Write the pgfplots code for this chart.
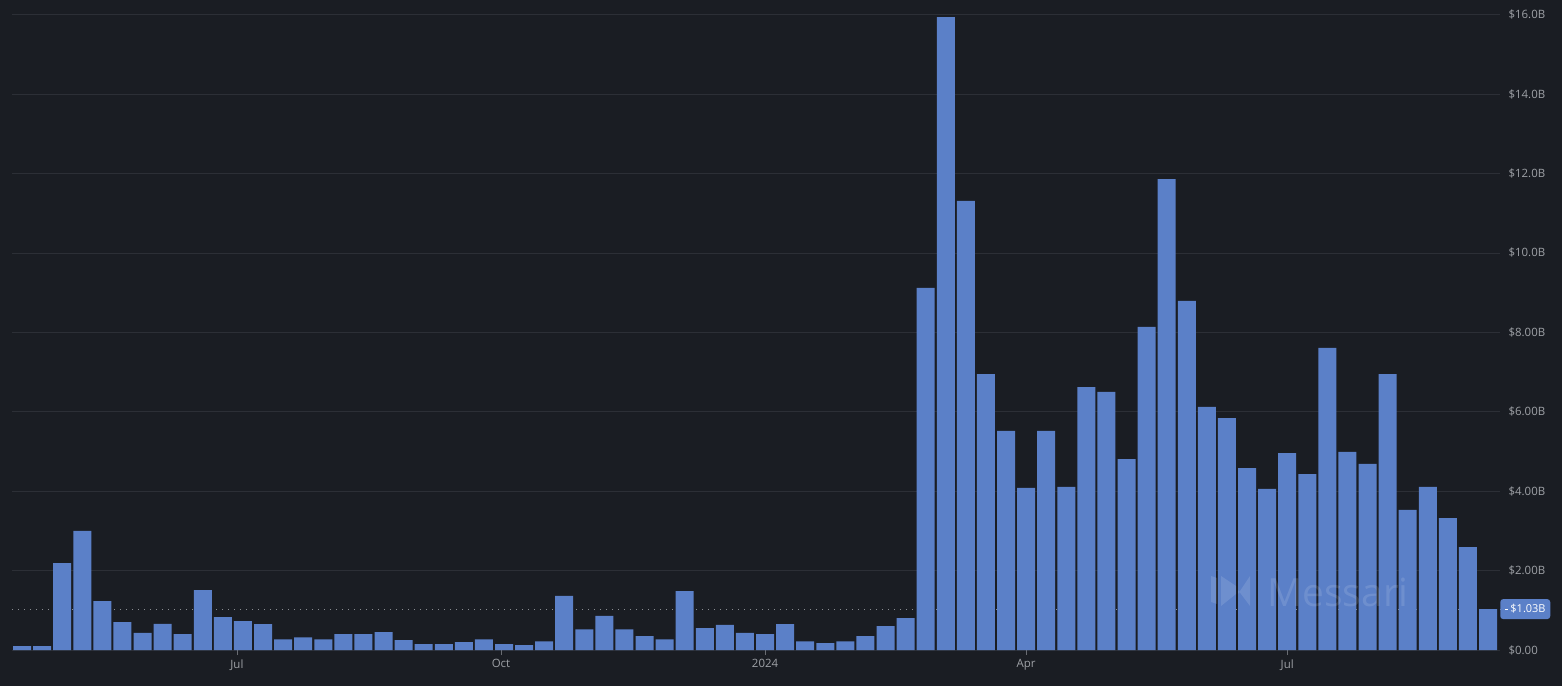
\documentclass[border=0pt]{standalone}
\usepackage{pgfplots}
\pgfplotsset{compat=1.18}
\usepackage{fontspec}
\setmainfont{Open Sans}
\definecolor{bg}{RGB}{26,29,35}
\definecolor{barc}{RGB}{91,128,200}
\definecolor{gridc}{RGB}{44,47,54}
\definecolor{txt}{RGB}{158,161,166}
\begin{document}
\begin{tikzpicture}
\path[use as bounding box] (0,0) rectangle (1562bp,686bp);
\fill[bg] (0,0) rectangle (1562bp,686bp);
\begin{axis}[
  at={(12bp,36bp)}, anchor=south west,
  scale only axis, width=1488bp, height=650bp,
  xmin=-0.5, xmax=73.6, ymin=0, ymax=16.37,
  axis line style={draw=none},
  xtick={10.7,23.85,37,50,63},
  xticklabels={Jul,Oct,2024,Apr,Jul},
  tick align=outside,
  xtick style={draw=txt!60!bg, line width=0.6bp},
  major tick length=5bp,
  ytick={0,2,...,16},
  yticklabels={\$0.00,\$2.00B,\$4.00B,\$6.00B,\$8.00B,\$10.0B,\$12.0B,\$14.0B,\$16.0B},
  ytick style={draw=none},
  yticklabel pos=right,
  ymajorgrids, grid style={gridc, line width=0.8bp},
  yticklabel style={font=\fontsize{11.5}{13}\selectfont, text=txt, anchor=west, xshift=0bp},
  xticklabel style={font=\fontsize{11.5}{13}\selectfont, text=txt, yshift=-1bp},
  clip=false,
]
\addplot[sharp plot, no marks, draw=txt!85!bg, line width=1bp, dash pattern=on 1bp off 5bp] coordinates {(-0.5,1.03) (73.6,1.03)};
\addplot[ybar, bar width=18bp, fill=barc, draw=none] table[row sep=\\] {
x y\\
0 0.10\\ 1 0.10\\ 2 2.19\\ 3 3.00\\ 4 1.23\\ 5 0.70\\ 6 0.43\\ 7 0.66\\ 8 0.40\\ 9 1.51\\
10 0.83\\ 11 0.73\\ 12 0.65\\ 13 0.27\\ 14 0.32\\ 15 0.27\\ 16 0.40\\ 17 0.40\\ 18 0.45\\ 19 0.25\\
20 0.15\\ 21 0.15\\ 22 0.20\\ 23 0.27\\ 24 0.15\\ 25 0.12\\ 26 0.22\\ 27 1.36\\ 28 0.52\\ 29 0.86\\
30 0.52\\ 31 0.35\\ 32 0.27\\ 33 1.48\\ 34 0.55\\ 35 0.63\\ 36 0.43\\ 37 0.40\\ 38 0.65\\ 39 0.22\\
40 0.17\\ 41 0.22\\ 42 0.35\\ 43 0.60\\ 44 0.80\\ 45 9.12\\ 46 15.94\\ 47 11.31\\ 48 6.95\\ 49 5.52\\
50 4.08\\ 51 5.52\\ 52 4.11\\ 53 6.62\\ 54 6.50\\ 55 4.81\\ 56 8.14\\ 57 11.86\\ 58 8.79\\ 59 6.12\\
60 5.84\\ 61 4.58\\ 62 4.06\\ 63 4.96\\ 64 4.43\\ 65 7.61\\ 66 4.99\\ 67 4.69\\ 68 6.95\\ 69 3.53\\
70 4.11\\ 71 3.32\\ 72 2.59\\ 73 1.03\\
};
\node[anchor=west, fill=barc, rounded corners=3bp, minimum width=50bp, minimum height=20bp, inner sep=1.5bp, text=white, font=\fontsize{11}{13}\selectfont] at (axis cs:73.6,1.03) {\rule[3.2bp]{3bp}{0.7bp}\hspace{2.5bp}\$1.03B};
\end{axis}
\node[text=white, opacity=0.12, font=\fontsize{39}{44}\selectfont, anchor=base west] at (1264bp,79bp) {Messari};
\fill[white, opacity=0.12] (1211bp,84bp) -- (1217bp,82bp) -- (1217bp,108bp) -- (1211bp,110bp) -- cycle;
\fill[white, opacity=0.12] (1221bp,80bp) -- (1236bp,92bp) -- (1236bp,100bp) -- (1221bp,110bp) -- cycle;
\fill[white, opacity=0.12] (1238bp,92bp) -- (1250bp,110bp) -- (1250bp,80bp) -- (1238bp,96bp) -- cycle;
\end{tikzpicture}
\end{document}
